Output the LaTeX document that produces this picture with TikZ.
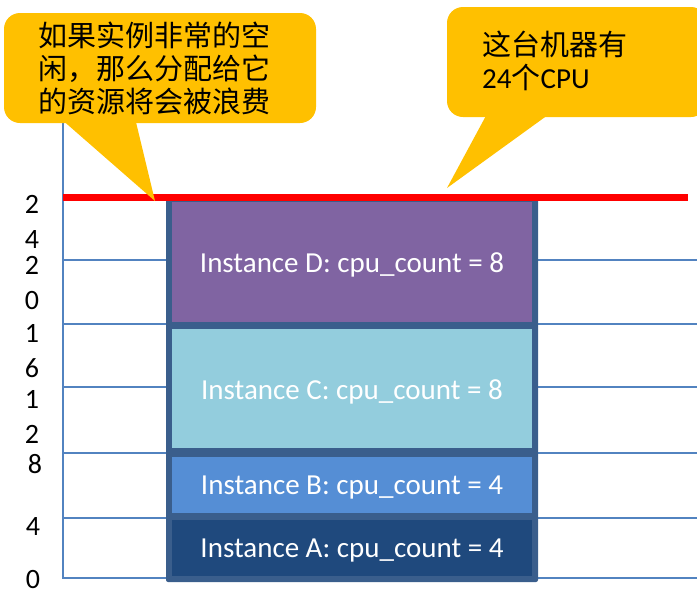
\documentclass[tikz,border=0pt]{standalone}
\usepackage{fontspec}
\setmainfont{Carlito}
\newfontfamily\cjk{Noto Sans CJK SC}
\begin{document}
\begin{tikzpicture}[x=1pt,y=-1pt,
  gridline/.style={draw=gridblue,line width=1.5pt},
  inst/.style={draw=none,minimum width=360pt,inner sep=0pt,text=white,font=\fontsize{29}{34}\selectfont},
  instlabel/.style={inner sep=0pt,text=white,font=\fontsize{29}{34}\selectfont},
  calloutfill/.style={fill=calloutorange,draw=none},
  axlabel/.style={inner sep=0pt,align=center,font=\fontsize{28}{35}\selectfont}]
\definecolor{gridblue}{HTML}{5283C0}
\definecolor{framecol}{HTML}{3A5E8C}
\definecolor{colD}{HTML}{8064A2}
\definecolor{colC}{HTML}{93CDDD}
\definecolor{colB}{HTML}{558ED5}
\definecolor{colA}{HTML}{1F497D}
\definecolor{calloutorange}{HTML}{FFC000}
\useasboundingbox (0,0) rectangle (697,598);
% grid lines
\foreach \y/\n in {260/a,324/b,387/c,453/d,518/e,578/f}{
  \coordinate (gl\n) at (63,\y);
  \coordinate (gr\n) at (697,\y);
  \draw[gridline] (gl\n) -- (gr\n);
}
\coordinate (axtop) at (63,120);
\coordinate (axbot) at (63,579);
\draw[gridline,line width=2pt] (axtop) -- (axbot);
% frame and instances
\node[fill=framecol,rounded corners=2pt,minimum width=372pt,minimum height=383pt,inner sep=0pt] (frame) at (352,390.5) {};
\node[inst,fill=colD,minimum height=120pt] (D) at (352,262) {};
\node[inst,fill=colC,minimum height=119pt] (C) at (352,388.5) {};
\node[inst,fill=colB,minimum height=56pt] (B) at (352,485) {};
\node[inst,fill=colA,minimum height=56pt] (A) at (352,548) {};
\node[instlabel] (Dt) at ([yshift=-3pt]D.center) {Instance D: cpu\_count = 8};
\node[instlabel] (Ct) at ([yshift=-3pt]C.center) {Instance C: cpu\_count = 8};
\node[instlabel] (Bt) at ([yshift=-3pt]B.center) {Instance B: cpu\_count = 4};
\node[instlabel] (At) at ([yshift=-3pt]A.center) {Instance A: cpu\_count = 4};
% red capacity line
\coordinate (rl) at (63,197);
\coordinate (rr) at (688,197);
\draw[red,line width=7pt] (rl) -- (rr);
% axis labels
\node[axlabel] (l24) at (32,222) {2\\4};
\node[axlabel] (l20) at (32,283) {2\\0};
\node[axlabel] (l16) at (32,351) {1\\6};
\node[axlabel] (l12) at (32,417) {1\\2};
\node[axlabel] (l8) at (35,464) {8};
\node[axlabel] (l4) at (33,527) {4};
\node[axlabel] (l0) at (33,580) {0};
% left callout
\coordinate (tipL) at (155,201);
\fill[calloutfill] (60,118) -- (tipL) -- (135,118) -- cycle;
\node[calloutfill,rounded corners=16pt,minimum width=312pt,minimum height=110pt,inner sep=0pt] (cl) at (160,68) {};
\node[inner sep=0pt,align=left,anchor=north west,font=\cjk\fontsize{29}{33}\selectfont] (clt) at (38,22) {如果实例非常的空\\闲，那么分配给它\\的资源将会被浪费};
% right callout
\coordinate (tipR) at (447,188);
\fill[calloutfill] (488,112) -- (tipR) -- (552,112) -- cycle;
\node[calloutfill,rounded corners=16pt,minimum width=260pt,minimum height=110pt,inner sep=0pt] (cr) at (577,62) {};
\node[inner sep=0pt,align=left,anchor=north west,font=\fontsize{29}{33}\selectfont] (crt) at (482,31) {{\cjk 这台机器有}\\24{\cjk 个}CPU};
\end{tikzpicture}
\end{document}
